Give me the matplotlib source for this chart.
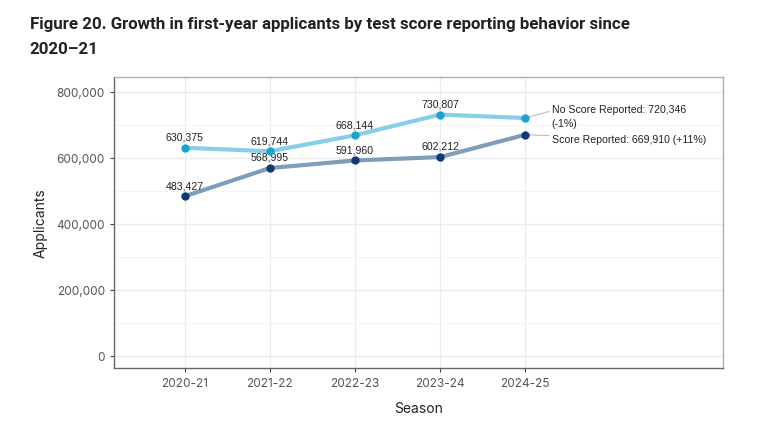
import numpy as np
import matplotlib.pyplot as plt
from matplotlib.ticker import FuncFormatter, MultipleLocator

seasons = ['2020-21', '2021-22', '2022-23', '2023-24', '2024-25']
no_score = [630375, 619744, 668144, 730807, 720346]
score = [483427, 568995, 591960, 602212, 669910]
end_labels = ['No Score Reported: 720,346\n(-1%)', 'Score Reported: 669,910 (+11%)']

fig = plt.figure(figsize=(7.65, 4.35), dpi=100)
ax = fig.add_axes([0.149, 0.152, 0.796, 0.669])

x = np.arange(len(seasons))
ax.plot(x, no_score, color='#86cfe6', lw=3, zorder=3, solid_capstyle='round')
ax.plot(x, no_score, 'o', color='#1aa3cf', ms=5, zorder=4)
ax.plot(x, score, color='#7f9cbb', lw=3, zorder=3, solid_capstyle='round')
ax.plot(x, score, 'o', color='#0d3a73', ms=5, zorder=4)

# value labels above points (except last)
for series in (no_score, score):
    for i in range(len(seasons) - 1):
        ax.annotate(f'{series[i]:,}', (x[i], series[i]), xytext=(0, 4.5),
                    textcoords='offset points', ha='center', va='bottom',
                    fontsize=7.6, family='Liberation Sans', color='#222222')

# end labels with leader lines
ax.annotate(end_labels[0], (x[-1], no_score[-1]), xytext=(19, 1.5),
            textcoords='offset points', ha='left', va='center',
            fontsize=7.6, family='Liberation Sans', color='#222222',
            linespacing=1.45,
            arrowprops=dict(arrowstyle='-', color='#bbbbbb', lw=0.8,
                            shrinkA=0, shrinkB=2, relpos=(0, 0.72)))
ax.annotate(end_labels[1], (x[-1], score[-1]), xytext=(19, -3),
            textcoords='offset points', ha='left', va='center',
            fontsize=7.6, family='Liberation Sans', color='#222222',
            arrowprops=dict(arrowstyle='-', color='#bbbbbb', lw=0.8,
                            shrinkA=0, shrinkB=2))

ax.set_xlim(-0.83, 6.32)
ax.set_ylim(-36000, 845000)
ax.set_xticks(x)
ax.set_xticklabels(seasons)
ax.yaxis.set_major_locator(MultipleLocator(200000))
ax.yaxis.set_minor_locator(MultipleLocator(100000))
ax.yaxis.set_major_formatter(FuncFormatter(lambda v, p: f'{int(v):,}'))

ax.grid(which='major', color='#ebebeb', lw=0.9)
ax.grid(which='minor', axis='y', color='#f4f4f4', lw=0.7)
ax.set_axisbelow(True)
ax.tick_params(which='minor', length=0)
ax.tick_params(which='major', length=3, color='#444444', labelcolor='#555555',
               labelsize=8.5)
for lab in ax.get_xticklabels() + ax.get_yticklabels():
    lab.set_family('Inter')

for s in ('left', 'bottom'):
    ax.spines[s].set_color('#666666')
for s in ('top', 'right'):
    ax.spines[s].set_color('#b0b0b0')
for s in ax.spines.values():
    s.set_linewidth(1)

ax.set_ylabel('Applicants', family='Inter', fontsize=10, color='#222222', labelpad=6)
ax.set_xlabel('Season', family='Inter', fontsize=10, color='#222222', labelpad=9)

fig.text(0.039, 0.962, 'Figure 20. Growth in first-year applicants by test score reporting behavior since\n2020\u201321',
         ha='left', va='top', fontsize=12.2, fontweight='bold', family='Roboto',
         color='#222222', linespacing=1.85)

fig.savefig('out.png', dpi=100, facecolor='white')
